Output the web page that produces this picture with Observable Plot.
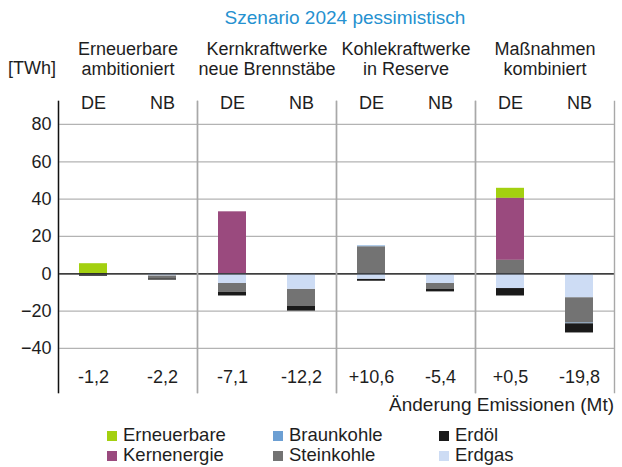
<!DOCTYPE html>
<html>
<head>
<meta charset="utf-8">
<script src="https://cdn.jsdelivr.net/npm/d3@7"></script>
<script src="https://cdn.jsdelivr.net/npm/@observablehq/plot@0.6"></script>
<style>
  html, body { margin: 0; padding: 0; background: #fff; }
  #wrap { position: relative; width: 622px; height: 467px; font-family: "Liberation Sans", Arial, sans-serif; color: #1e1e1e; overflow: hidden; }
  #chart { position: absolute; left: 0; top: 0; }
  .abs { position: absolute; white-space: nowrap; line-height: 1; }
  #title { top: 8px; left: 0; width: 690px; text-align: center; font-size: 19px; color: #2591d0; }
  #unit { left: 8px; top: 59px; font-size: 18px; }
  #emis { right: 8px; top: 395px; font-size: 19px; }
  .leg { position: absolute; font-size: 18.5px; line-height: 1; white-space: nowrap; }
  .sw { position: absolute; width: 10px; height: 10px; }
</style>
</head>
<body>
<div id="wrap">
  <div id="title" class="abs">Szenario 2024 pessimistisch</div>
  <div id="unit" class="abs">[TWh]</div>
  <div id="chart"></div>
  <div id="emis" class="abs">Änderung Emissionen (Mt)</div>
  <div id="legend"></div>
</div>
<script>
// ---- data ----
const groups = ["Erneuerbare ambitioniert", "Kernkraftwerke neue Brennstäbe", "Kohlekraftwerke in Reserve", "Maßnahmen kombiniert"];
const groupHeaders = ["Erneuerbare\nambitioniert", "Kernkraftwerke\nneue Brennstäbe", "Kohlekraftwerke\nin Reserve", "Maßnahmen\nkombiniert"];
const regions = ["DE", "NB"];
const types = ["Erneuerbare", "Kernenergie", "Braunkohle", "Steinkohle", "Erdöl", "Erdgas"];
const typeColors = ["#a3d010", "#9a4a7e", "#6c9fd3", "#737373", "#1a1a1a", "#cddcf4"];
// values per bar: [Ern DE, Ern NB, Kern DE, Kern NB, Kohle DE, Kohle NB, Komb DE, Komb NB]
const erneuerbare = [5.4, 0, 0, 0, 0, 0, 5.4, 0];
const kernenergie = [0, 0, 33.2, 0, 0, 0, 33.2, 0];
const braunkohle  = [0, 0, 0, 0, 0.5, 0, 0, -0.5];
const steinkohle  = [-1.0, -1.6, -4.7, -9.2, 14.4, -3.2, 7.2, -13.5];
const erdoel      = [-0.4, -0.7, -2.0, -2.5, -1.1, -1.3, -4.0, -4.9];
const erdgas      = [0, -1.1, -5.2, -8.3, -2.9, -5.2, -7.9, -12.8];
const emissions = ["-1,2", "-2,2", "-7,1", "-12,2", "+10,6", "-5,4", "+0,5", "-19,8"];
const yTicks = [-40, -20, 0, 20, 40, 60, 80];
const stackOrder = ["Erdgas", "Steinkohle", "Braunkohle", "Kernenergie", "Erneuerbare", "Erdöl"];

// ---- build tables ----
const seriesByType = {Erneuerbare: erneuerbare, Kernenergie: kernenergie, Braunkohle: braunkohle, Steinkohle: steinkohle, "Erdöl": erdoel, Erdgas: erdgas};
const rows = [];
for (const t of types) {
  seriesByType[t].forEach((v, i) => {
    if (v !== 0) rows.push({group: groups[Math.floor(i / 2)], region: regions[i % 2], type: t, value: v});
  });
}
const cells = emissions.map((e, i) => ({group: groups[Math.floor(i / 2)], region: regions[i % 2], emission: e}));

const chart = Plot.plot({
  width: 622,
  height: 420,
  marginTop: 101,
  marginBottom: 28,
  marginLeft: 56,
  marginRight: 7,
  style: {fontFamily: "'Liberation Sans', Arial, sans-serif", fontSize: "18px", color: "#1e1e1e", background: "transparent"},
  fx: {domain: groups, padding: 0, axis: null},
  x: {domain: regions, paddingInner: 0.6, paddingOuter: 0.3, axis: null},
  y: {domain: [-63.6, 92.3]},
  color: {domain: types, range: typeColors},
  marks: [
    Plot.gridY(yTicks, {stroke: "#b3b3b3", strokeOpacity: 1, strokeWidth: 1.2}),
    Plot.barY(rows, {fx: "group", x: "region", y: "value", fill: "type", order: stackOrder}),
    Plot.ruleY([0], {stroke: "#111", strokeWidth: 1.3}),
    Plot.frame({anchor: "left", stroke: "#a8a8a8", strokeWidth: 1.4}),
    Plot.frame({anchor: "right", stroke: "#a8a8a8", strokeWidth: 1.4}),
    Plot.frame({anchor: "left", stroke: "#111", strokeWidth: 1.4, facetAnchor: "left"}),
    Plot.axisY(yTicks, {tickSize: 0, tickPadding: 7, fontSize: 18, label: null}),
    Plot.text(groups, {fx: d => d, text: d => groupHeaders[groups.indexOf(d)], frameAnchor: "top", dy: -43, lineAnchor: "middle", lineHeight: 1.12, fontSize: 18}),
    Plot.text(cells, {fx: "group", x: "region", text: "region", frameAnchor: "top", dy: 2, lineAnchor: "middle", fontSize: 18}),
    Plot.text(cells, {fx: "group", x: "region", text: "emission", frameAnchor: "bottom", dy: -15, lineAnchor: "middle", fontSize: 18})
  ]
});
document.getElementById("chart").appendChild(chart);

// ---- legend ----
const legendOrder = ["Erneuerbare", "Kernenergie", "Braunkohle", "Steinkohle", "Erdöl", "Erdgas"];
const colX = [107, 273, 439];
const rowY = [435.5, 455.5];
const leg = document.getElementById("legend");
legendOrder.forEach((t, k) => {
  const c = Math.floor(k / 2), r = k % 2;
  const sw = document.createElement("div");
  sw.className = "sw";
  sw.style.left = colX[c] + "px";
  sw.style.top = (rowY[r] - 5) + "px";
  sw.style.background = typeColors[types.indexOf(t)];
  leg.appendChild(sw);
  const tx = document.createElement("div");
  tx.className = "leg";
  tx.textContent = t;
  tx.style.left = (colX[c] + 16) + "px";
  tx.style.top = (rowY[r] - 9.5) + "px";
  leg.appendChild(tx);
});
</script>
</body>
</html>
